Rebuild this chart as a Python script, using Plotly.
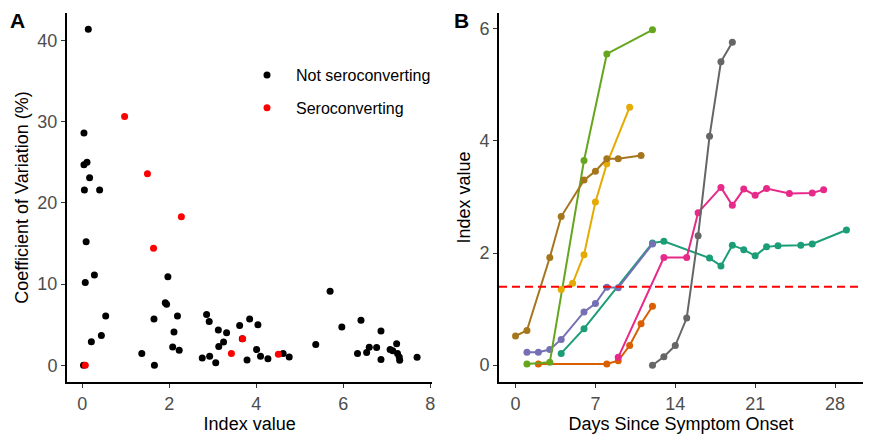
import plotly.graph_objects as go

# ---------------- Panel A data ----------------
not_sero_index = [0.14, 0.04, 0.04, 0.11, 0.17, 0.05, 0.40, 0.09, 0.07, 0.28, 1.97, 5.70, 1.91, 1.94,
                  0.54, 1.65, 2.19, 2.86, 2.92, 3.85, 3.62, 4.04, 5.97, 6.41, 6.87, 0.44, 3.13, 3.32,
                  2.11, 0.21, 2.08, 2.23, 3.68, 3.25, 3.14, 4.01, 5.37, 6.60, 6.77, 7.23, 7.08, 7.14,
                  7.25, 7.29, 7.30, 6.33, 6.54, 6.87, 7.70, 1.37, 4.62, 4.76, 2.76, 2.93, 3.07, 3.79,
                  4.10, 4.27, 1.66, 0.03]
not_sero_cv = [41.4, 28.6, 24.7, 25.0, 23.1, 21.6, 21.6, 15.2, 10.2, 11.1, 10.9, 9.1, 7.7, 7.5,
               6.05, 5.7, 6.05, 6.25, 5.4, 5.7, 4.9, 5.0, 4.7, 5.55, 4.2, 3.65, 4.35, 4.0,
               4.1, 2.9, 2.25, 1.85, 3.25, 2.85, 2.3, 1.93, 2.55, 2.2, 2.17, 2.63, 1.93, 1.77,
               1.43, 1.02, 0.6, 1.43, 1.56, 0.7, 0.98, 1.45, 1.45, 1.0, 0.9, 1.1, 0.3, 0.65,
               1.1, 0.8, 0.0, 0.0]
sero_index = [0.975, 1.50, 2.28, 1.64, 3.69, 3.43, 4.51, 0.07]
sero_cv = [30.65, 23.6, 18.3, 14.4, 3.25, 1.45, 1.35, 0.0]

# ---------------- Panel B data ----------------
teal_days = [4, 6, 12, 13, 17, 18, 19, 20, 21, 22, 23, 25, 26, 29]
teal_vals = [0.21, 0.65, 2.18, 2.21, 1.91, 1.77, 2.14, 2.06, 1.95, 2.11, 2.13, 2.14, 2.16, 2.41]
orange_days = [2, 8, 9, 10, 11, 12]
orange_vals = [0.02, 0.02, 0.08, 0.35, 0.74, 1.05]
purple_days = [1, 2, 3, 4, 6, 7, 8, 9, 12]
purple_vals = [0.23, 0.23, 0.28, 0.46, 0.95, 1.10, 1.39, 1.38, 2.16]
pink_days = [9, 13, 15, 16, 18, 19, 20, 21, 22, 24, 26, 27]
pink_vals = [0.14, 1.92, 1.92, 2.72, 3.17, 2.85, 3.14, 3.03, 3.15, 3.06, 3.07, 3.13]
green_days = [1, 3, 6, 8, 12]
green_vals = [0.02, 0.05, 3.65, 5.55, 5.98]
yellow_days = [4, 5, 6, 7, 8, 10]
yellow_vals = [1.35, 1.46, 1.97, 2.91, 3.59, 4.60]
brown_days = [0, 1, 3, 4, 6, 7, 8, 9, 11]
brown_vals = [0.52, 0.62, 1.92, 2.65, 3.30, 3.46, 3.68, 3.68, 3.74]
gray_days = [12, 13, 14, 15, 16, 17, 18, 19]
gray_vals = [0.0, 0.15, 0.35, 0.84, 2.31, 4.08, 5.41, 5.76]
cutoff = 1.4

series_b = [
    (teal_days, teal_vals, "#1B9E77"),
    (orange_days, orange_vals, "#D95F02"),
    (purple_days, purple_vals, "#7570B3"),
    (pink_days, pink_vals, "#E7298A"),
    (green_days, green_vals, "#66A61E"),
    (yellow_days, yellow_vals, "#E6AB02"),
    (brown_days, brown_vals, "#A6761D"),
    (gray_days, gray_vals, "#666666"),
]

FONT = "Liberation Sans, Arial, sans-serif"
W, H = 870, 435
ML, MR, MT, MB = 67, 7, 13, 53
PW, PH = W - ML - MR, H - MT - MB


def px2x(px):
    return (px - ML) / PW


def py2y(py):
    return (H - MB - py) / PH


fig = go.Figure()
fig.add_trace(go.Scatter(x=not_sero_index, y=not_sero_cv, mode="markers", name="Not seroconverting",
                         marker=dict(color="black", size=7), xaxis="x", yaxis="y",
                         legendgroup="a"))
fig.add_trace(go.Scatter(x=sero_index, y=sero_cv, mode="markers", name="Seroconverting",
                         marker=dict(color="#FF0000", size=7), xaxis="x", yaxis="y",
                         legendgroup="b"))

for d, v, c in series_b:
    fig.add_trace(go.Scatter(x=d, y=v, mode="lines+markers", showlegend=False,
                             line=dict(color=c, width=2), marker=dict(color=c, size=7),
                             xaxis="x2", yaxis="y2"))

axis_common = dict(showgrid=False, zeroline=False, showline=True, linecolor="black", linewidth=2,
                   ticks="outside", ticklen=4, tickwidth=1, tickcolor="#333333", automargin=False,
                   tickfont=dict(size=18, color="#4D4D4D", family=FONT),
                   title_font=dict(size=18, color="black", family=FONT))

fig.update_layout(
    width=W, height=H,
    margin=dict(l=ML, r=MR, t=MT, b=MB, autoexpand=False),
    paper_bgcolor="white", plot_bgcolor="white",
    font=dict(family=FONT),
    xaxis=dict(domain=[0, px2x(432.3)], range=[-0.35, 8.05], tickvals=[0, 2, 4, 6, 8],
               title=dict(text="Index value", standoff=3), anchor="y", **axis_common),
    yaxis=dict(domain=[0, 1], range=[-2.07, 43.4], tickvals=[0, 10, 20, 30, 40],
               title=dict(text="Coefficient of Variation (%)", standoff=4), anchor="x", **axis_common),
    xaxis2=dict(domain=[px2x(499), 1], range=[-1.45, 30.45], tickvals=[0, 7, 14, 21, 28],
                title=dict(text="Days Since Symptom Onset", standoff=3), anchor="y2", **axis_common),
    yaxis2=dict(domain=[0, 1], range=[-0.3, 6.28], tickvals=[0, 2, 4, 6],
                title=dict(text="Index value", standoff=4), anchor="x2", **axis_common),
    legend=dict(x=px2x(238), y=py2y(58), xanchor="left", yanchor="top", tracegroupgap=9,
                itemwidth=48,
                font=dict(size=16, color="black", family=FONT), bgcolor="rgba(0,0,0,0)",
                traceorder="grouped"),
    shapes=[dict(type="line", xref="x2 domain", yref="y2", x0=0, x1=1, y0=cutoff, y1=cutoff,
                 line=dict(color="#FF0000", width=2, dash="8px,5px"))],
    annotations=[
        dict(text="<b>A</b>", x=px2x(8), y=py2y(7), xref="paper", yref="paper",
             xanchor="left", yanchor="top", showarrow=False, font=dict(size=21, color="black", family=FONT)),
        dict(text="<b>B</b>", x=px2x(452), y=py2y(7), xref="paper", yref="paper",
             xanchor="left", yanchor="top", showarrow=False, font=dict(size=21, color="black", family=FONT)),
    ],
)

fig.write_html("out.html", config={"displayModeBar": False},
               post_script="document.body.style.margin='0';document.body.style.overflow='hidden';")
